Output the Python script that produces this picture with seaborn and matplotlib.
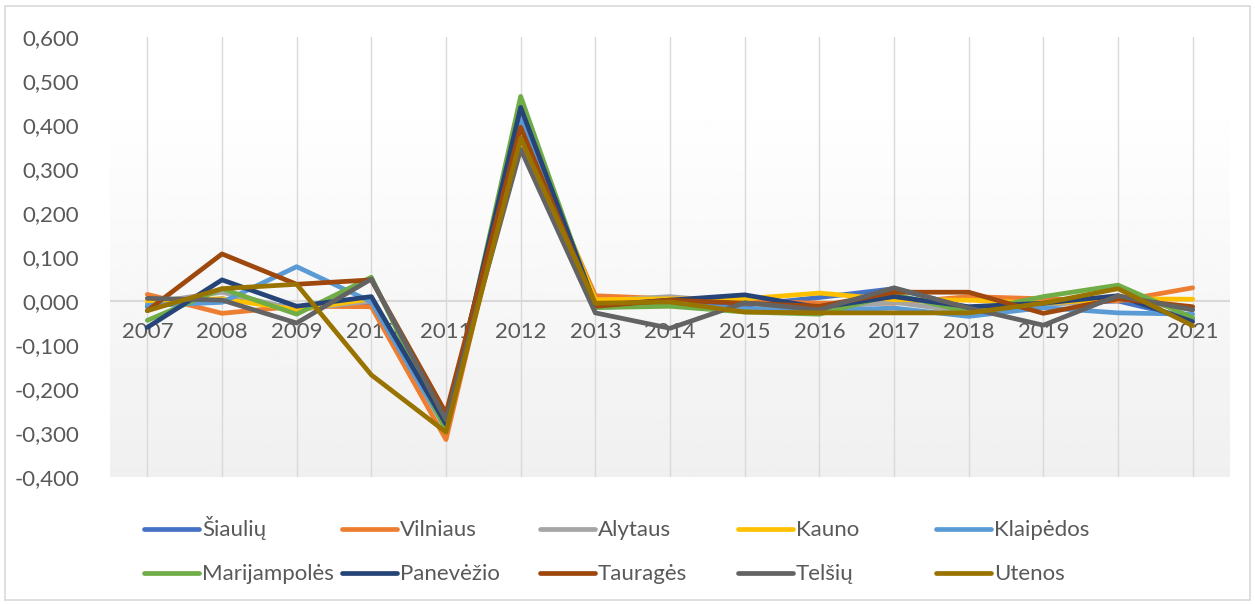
import numpy as np
import pandas as pd
import seaborn as sns
import matplotlib.pyplot as plt
from matplotlib.patches import Rectangle
from matplotlib.lines import Line2D

# ---------------------------------------------
# Data
# ---------------------------------------------
years = ["2007", "2008", "2009", "2010", "2011", "2012", "2013", "2014",
         "2015", "2016", "2017", "2018", "2019", "2020", "2021"]

siauliu      = [-0.013, 0.005, -0.015, -0.005, -0.285, 0.430, -0.013, -0.005, -0.010, 0.008, 0.028, -0.015, -0.005, 0.000, -0.040]
vilniaus     = [0.015, -0.028, -0.012, -0.013, -0.315, 0.400, 0.012, 0.005, 0.000, -0.005, -0.005, 0.010, 0.005, 0.000, 0.030]
alytaus      = [-0.005, 0.020, -0.020, 0.000, -0.280, 0.370, 0.000, 0.010, -0.005, -0.015, -0.003, -0.025, -0.010, 0.005, -0.020]
kauno        = [0.000, 0.005, -0.020, 0.005, -0.285, 0.420, 0.003, 0.005, 0.005, 0.018, 0.003, 0.002, -0.005, 0.005, 0.004]
klaipedos    = [-0.010, -0.003, 0.078, -0.002, -0.290, 0.415, -0.015, -0.008, -0.018, -0.022, -0.016, -0.035, -0.015, -0.027, -0.030]
marijampoles = [-0.044, 0.028, -0.030, 0.054, -0.295, 0.465, -0.015, -0.012, -0.025, -0.030, 0.015, -0.025, 0.010, 0.036, -0.038]
panevezio    = [-0.060, 0.048, -0.012, 0.010, -0.280, 0.440, -0.010, 0.002, 0.014, -0.015, 0.010, -0.013, -0.005, 0.012, -0.047]
taurages     = [-0.022, 0.107, 0.038, 0.048, -0.255, 0.395, -0.012, 0.002, -0.005, -0.012, 0.020, 0.020, -0.028, 0.005, -0.013]
telsiu       = [0.006, 0.002, -0.050, 0.050, -0.270, 0.345, -0.027, -0.062, -0.004, -0.020, 0.030, -0.016, -0.055, 0.012, -0.020]
utenos       = [-0.022, 0.028, 0.038, -0.168, -0.298, 0.370, -0.005, -0.002, -0.025, -0.027, -0.027, -0.027, -0.005, 0.028, -0.056]

names = ["Šiaulių", "Vilniaus", "Alytaus", "Kauno", "Klaipėdos",
         "Marijampolės", "Panevėžio", "Tauragės", "Telšių", "Utenos"]
series = [siauliu, vilniaus, alytaus, kauno, klaipedos,
          marijampoles, panevezio, taurages, telsiu, utenos]
colors = ["#4472C4", "#ED7D31", "#A5A5A5", "#FFC000", "#5B9BD5",
          "#70AD47", "#264478", "#9E480E", "#636363", "#997300"]

rows = []
for name, vals in zip(names, series):
    for i, v in enumerate(vals):
        rows.append({"region": name, "pos": i, "value": v})
df = pd.DataFrame(rows)

# ---------------------------------------------
# Figure setup
# ---------------------------------------------
sns.set_style("white")
plt.rcParams["font.family"] = ["Lato", "DejaVu Sans"]
text_color = "#595959"
W, H = 1255, 604

fig = plt.figure(figsize=(W / 100, H / 100), dpi=100)
ax = fig.add_axes([110 / W, 1 - 477 / H, 1120 / W, 440 / H])

# soft grey gradient behind the lines (Excel plot area fill)
grad = np.linspace(0.94, 1.0, 256).reshape(-1, 1)
ax.imshow(grad, cmap="gray", vmin=0, vmax=1, aspect="auto", origin="lower",
          extent=[0, 1, 0, 0.868], transform=ax.transAxes, zorder=0)

# vertical category gridlines and zero line
for i in range(len(years)):
    ax.axvline(i, color="#d9d9d9", lw=1.0, zorder=1)
ax.axhline(0, color="#d9d9d9", lw=1.5, zorder=1)

sns.lineplot(data=df, x="pos", y="value", hue="region", hue_order=names,
             palette=colors, linewidth=3.4, legend=False, ax=ax, zorder=3)

ax.set_xlim(-0.5, len(years) - 0.5)
ax.set_ylim(-0.4, 0.6)
yt = np.arange(-0.4, 0.61, 0.1)
ax.set_yticks(yt)
ax.set_yticklabels([f"{t:.3f}".replace(".", ",").replace("-0,000", "0,000") for t in yt])
ax.set_xticks([])
ax.tick_params(axis="y", length=0, pad=22, labelsize=16, labelcolor=text_color)
ax.set_xlabel("")
ax.set_ylabel("")
for s in ax.spines.values():
    s.set_visible(False)
ax.patch.set_alpha(0)

# category labels sit just under the zero line
for i, yr in enumerate(years):
    ax.text(i, -0.0705, yr, ha="center", va="center", fontsize=16,
            color=text_color, zorder=2)

# ---------------------------------------------
# Legend: 5 columns x 2 rows below the plot (Excel style fixed columns)
# ---------------------------------------------
col_x = [144, 342, 540, 738, 936]
row_y = [529, 573]
for k, (name, col) in enumerate(zip(names, colors)):
    x0 = col_x[k % 5]
    y0 = row_y[k // 5]
    fig.add_artist(Line2D([x0 / W, (x0 + 55) / W], [1 - y0 / H, 1 - y0 / H],
                          color=col, lw=3.4, solid_capstyle="round",
                          transform=fig.transFigure))
    fig.text((x0 + 58) / W, 1 - (y0 + 7) / H, name, ha="left", va="baseline",
             fontsize=16, color=text_color)

# chart border
fig.patches.append(Rectangle((5 / W, 4 / H), 1245 / W, 594 / H,
                             transform=fig.transFigure, fill=False,
                             edgecolor="#d9d9d9", lw=1.2))

fig.savefig("out.png", dpi=100)
